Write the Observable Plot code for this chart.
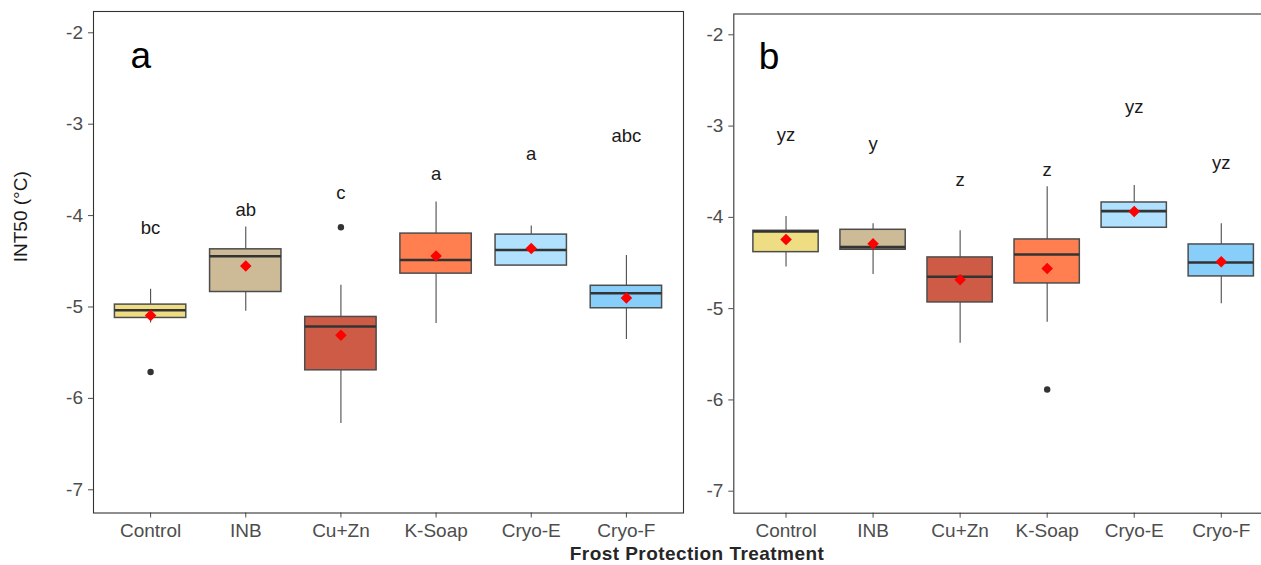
<!DOCTYPE html>
<html>
<head>
<meta charset="utf-8">
<script src="https://cdn.jsdelivr.net/npm/d3@7"></script>
<script src="https://cdn.jsdelivr.net/npm/@observablehq/plot@0.6"></script>
<style>
  html, body { margin: 0; padding: 0; background: #fff; }
  #wrap { position: relative; width: 1261px; height: 565px; overflow: hidden; background: #fff;
          font-family: "Liberation Sans", Arial, sans-serif; }
  #wrap svg { background: transparent !important; max-width: none !important; }
  #pa { position: absolute; left: 0; top: 0; width: 700px; height: 540px; }
  #pb { position: absolute; left: 650px; top: 0; width: 640px; height: 540px; }
  #xtitle { position: absolute; left: 0; width: 1394px; top: 546.3px; text-align: center;
            font-size: 19px; line-height: 16px; font-weight: bold; color: #262626; letter-spacing: 0.45px; }
</style>
</head>
<body>
<div id="wrap">
  <div id="pa"></div>
  <div id="pb"></div>
  <div id="xtitle">Frost Protection Treatment</div>
</div>
<script>
// ---- data ----
const categories = ["Control", "INB", "Cu+Zn", "K-Soap", "Cryo-E", "Cryo-F"];
const fills = ["#EEDD82", "#CDBA96", "#CD5B45", "#FF7F50", "#B0E2FF", "#87CEFA"];
const yTicks = [-7, -6, -5, -4, -3, -2];

// panel a
const aLow    = [-5.175, -5.047, -6.276, -5.182, -4.547, -5.357];
const aQ1     = [-5.120, -4.836, -5.693, -4.635, -4.547, -5.014];
const aMedian = [-5.036, -4.445, -5.214, -4.486, -4.376, -4.850];
const aQ3     = [-4.974, -4.369, -5.109, -4.197, -4.208, -4.768];
const aHigh   = [-4.806, -4.125, -4.763, -3.851, -4.114, -4.438];
const aMean   = [-5.094, -4.551, -5.310, -4.442, -4.361, -4.902];
const aOutlierGroup = [0, 2];
const aOutlierValue = [-5.711, -4.128];
const aLetters = ["bc", "ab", "c", "a", "a", "abc"];
const aLetterY = [-4.136, -3.942, -3.753, -3.548, -3.329, -3.129];

// panel b
const bLow    = [-4.545, -4.625, -5.378, -5.148, -4.114, -4.946];
const bQ1     = [-4.381, -4.355, -4.932, -4.724, -4.114, -4.647];
const bMedian = [-4.155, -4.326, -4.651, -4.406, -3.932, -4.494];
const bQ3     = [-4.147, -4.136, -4.439, -4.242, -3.837, -4.297];
const bHigh   = [-3.990, -4.070, -4.147, -3.665, -3.651, -4.070];
const bMean   = [-4.242, -4.289, -4.683, -4.560, -3.935, -4.486];
const bOutlierGroup = [3];
const bOutlierValue = [-5.885];
const bLetters = ["yz", "y", "z", "z", "yz", "yz"];
const bLetterY = [-3.095, -3.194, -3.588, -3.486, -2.793, -3.402];

function panel(o) {
  const rows = categories.map((c, i) => ({
    i, c, fill: fills[i], low: o.low[i], q1: o.q1[i], med: o.med[i], q3: o.q3[i],
    high: o.high[i], mean: o.mean[i], letter: o.letters[i], ly: o.letterY[i]
  }));
  const outs = o.outGroup.map((g, k) => ({ i: g, v: o.outVal[k] }));
  const hw = 0.375;
  const marks = [
    Plot.ruleX(rows, { x: "i", y1: "q3", y2: "high", stroke: "#4d4d4d", strokeWidth: 1.1 }),
    Plot.ruleX(rows, { x: "i", y1: "low", y2: "q1", stroke: "#4d4d4d", strokeWidth: 1.1 }),
    Plot.rect(rows, { x1: d => d.i - hw, x2: d => d.i + hw, y1: "q1", y2: "q3", fill: "fill",
                      stroke: "#4d4d4d", strokeWidth: 1.5 }),
    Plot.ruleY(rows, { y: "med", x1: d => d.i - hw, x2: d => d.i + hw, stroke: "#333", strokeWidth: 2.6 }),
    Plot.dot(outs, { x: "i", y: "v", r: 3.2, fill: "#333", stroke: "none" }),
    Plot.dot(rows, { x: "i", y: "mean", symbol: "diamond2", r: 5.2, fill: "red", stroke: "none" }),
    Plot.text(rows, { x: "i", y: "ly", text: "letter", fontSize: 18.5, fill: "#1a1a1a" }),
    Plot.text([o.tag], { frameAnchor: "top-left", textAnchor: "start", lineAnchor: "middle",
                          dx: o.tagDx, dy: o.tagDy, fontSize: 37, fill: "#000" }),
    Plot.axisX({ ticks: [0, 1, 2, 3, 4, 5], tickFormat: i => categories[i], tickSize: 5,
                 tickPadding: 5.5, fontSize: 19, color: "#4d4d4d", label: null }),
    Plot.axisY({ ticks: yTicks, tickFormat: d => String(d), tickSize: 5, tickPadding: 5.5,
                 fontSize: 19, color: "#4d4d4d", label: null }),
    Plot.frame({ stroke: "#333", strokeWidth: 1.1 })
  ];
  if (o.yTitle) {
    marks.push(Plot.text([o.yTitle], { frameAnchor: "left", dx: -73, rotate: -90, fontSize: 19,
                                       fill: "#1a1a1a" }));
  }
  return Plot.plot({
    width: o.width, height: o.height,
    marginLeft: o.ml, marginRight: o.mr, marginTop: o.mt, marginBottom: o.mb,
    style: { fontFamily: "Liberation Sans, Arial, sans-serif", background: "transparent", overflow: "visible" },
    x: { domain: [-0.6, 5.6], axis: null },
    y: { domain: o.yDomain, axis: null },
    color: { type: "identity" },
    marks
  });
}

document.getElementById("pa").append(panel({
  low: aLow, q1: aQ1, med: aMedian, q3: aQ3, high: aHigh, mean: aMean,
  outGroup: aOutlierGroup, outVal: aOutlierValue, letters: aLetters, letterY: aLetterY,
  tag: "a", tagDx: 37, tagDy: 44.5, yTitle: "INT50 (°C)",
  width: 700, height: 540, ml: 93, mr: 17, mt: 11, mb: 27.5, yDomain: [-7.254, -1.767]
}));

document.getElementById("pb").append(panel({
  low: bLow, q1: bQ1, med: bMedian, q3: bQ3, high: bHigh, mean: bMean,
  outGroup: bOutlierGroup, outVal: bOutlierValue, letters: bLetters, letterY: bLetterY,
  tag: "b", tagDx: 25, tagDy: 43,
  width: 640, height: 540, ml: 83.3, mr: 17, mt: 13.5, mb: 27.3, yDomain: [-7.241, -1.772]
}));
</script>
</body>
</html>
